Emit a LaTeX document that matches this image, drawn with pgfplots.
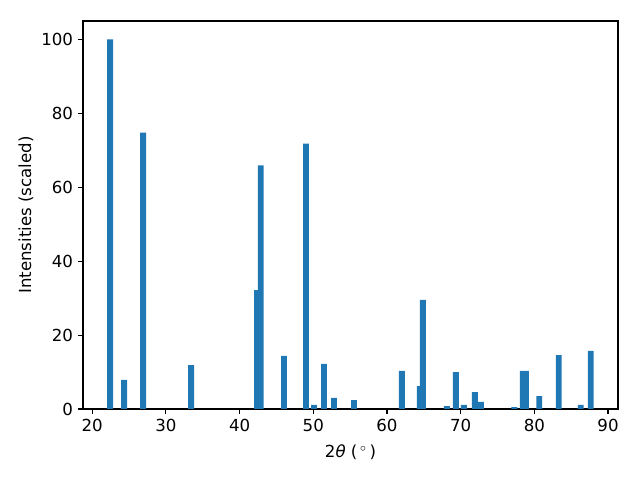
\documentclass[border=0pt]{standalone}
\usepackage{pgfplots}
\pgfplotsset{compat=1.18}
\usepackage{fontspec}
\setmainfont{DejaVu Sans}
\definecolor{c0}{HTML}{1F77B4}

\begin{document}
\begin{tikzpicture}[x=1bp,y=1bp]
% full figure box, 640x480 px at 0.72bp per px
\useasboundingbox (-59.76bp,-51.12bp) rectangle (401.04bp,294.48bp);
\begin{axis}[
    at={(0,0)}, anchor=south west,
    scale only axis,
    width=385.2bp, height=279.36bp,
    font=\fontsize{12}{14}\selectfont,
    /pgf/number format/assume math mode=true,
    xmin=18.75, xmax=91.35,
    ymin=0, ymax=105,
    xtick={20,30,...,90},
    ytick={0,20,...,100},
    tick align=outside,
    major tick length=3.5bp,
    tick style={black, line width=0.8bp},
    axis line style={line width=0.8bp},
    xtick pos=bottom, ytick pos=left,
    xticklabel style={inner sep=0pt, yshift=-3.5bp},
    yticklabel style={inner sep=0pt, xshift=-3.5bp},
    xlabel={2{\itshape θ} (\,$^\circ$\,)},
    ylabel={Intensities (scaled)},
    xlabel style={at={(axis description cs:0.5,-0.111)}, anchor=center},
    ylabel style={at={(axis description cs:-0.1065,0.5)}, anchor=center, rotate=0},
    ybar, bar width=0.8, bar shift=0pt,
]
\addplot[draw=none, fill=c0] coordinates {
    (22.44,100) (24.34,7.9) (26.91,74.8) (33.42,11.9)
    (42.37,32.2) (42.87,65.9) (46.03,14.4) (49.01,71.8)
    (50.10,1.1) (51.45,12.2) (52.81,3.0) (55.52,2.4)
    (62.03,10.3) (64.47,6.2) (64.87,29.5) (68.13,0.8)
    (69.35,10.0) (70.43,1.1) (71.92,4.6) (72.74,1.9)
    (77.28,0.5) (78.43,10.3) (78.84,10.3) (80.67,3.5)
    (83.31,14.6) (86.30,1.1) (87.65,15.7)
};
\end{axis}
\end{tikzpicture}
\end{document}
